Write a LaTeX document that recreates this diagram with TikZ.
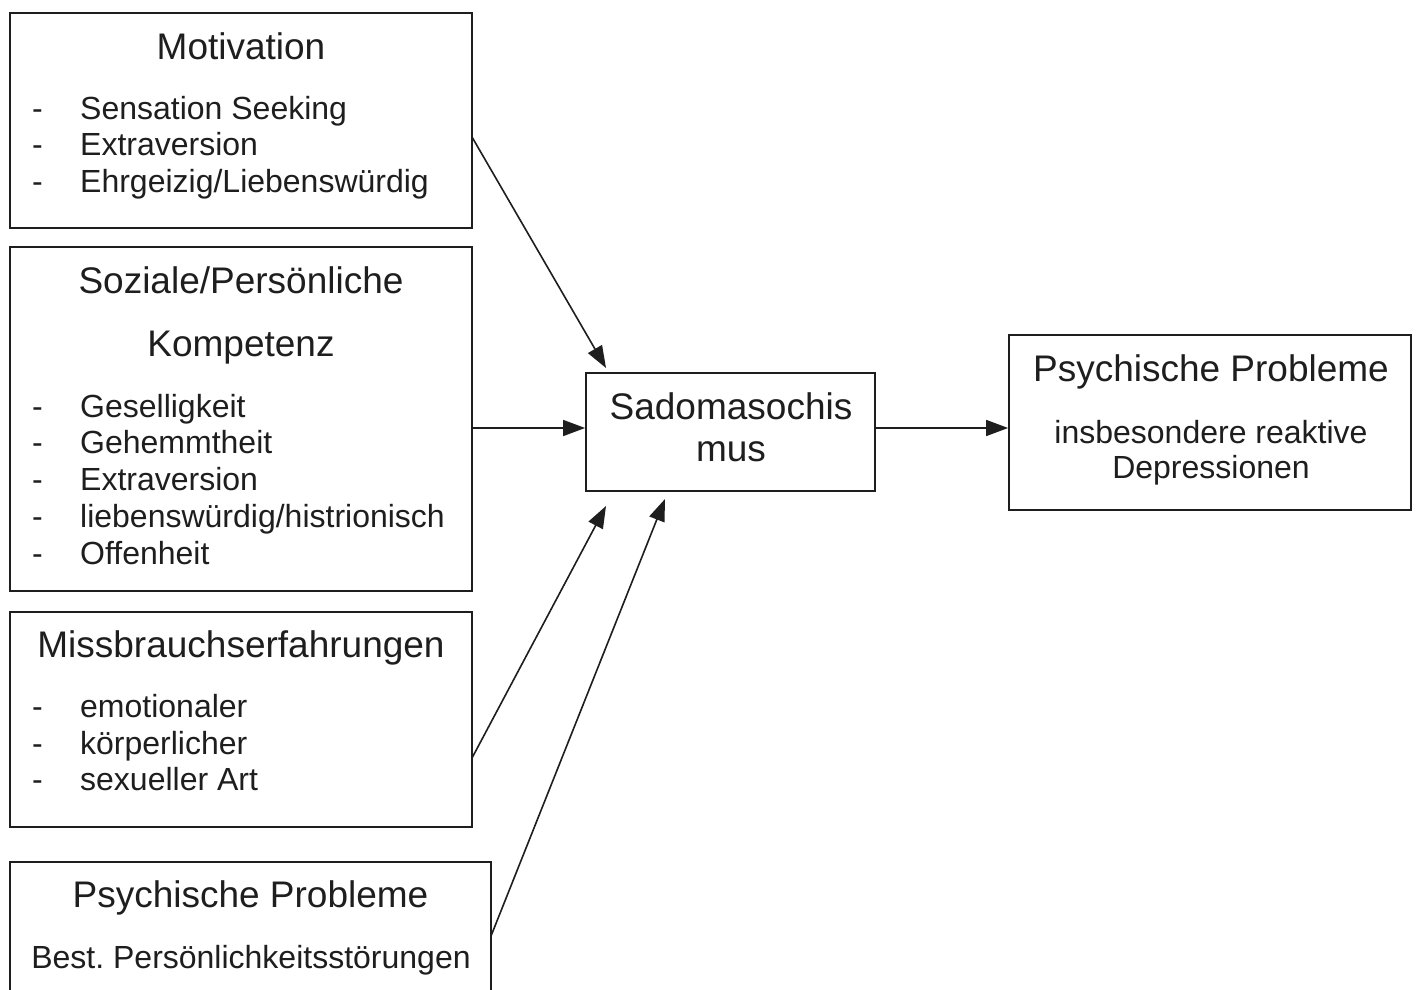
\documentclass[tikz,border=0pt]{standalone}
\usepackage{fontspec}
\setmainfont{Liberation Sans}
\usetikzlibrary{arrows.meta}
\definecolor{ink}{HTML}{1E1E1E}
\frenchspacing
\tikzset{
  box/.style={draw=ink, line width=1.8pt, inner sep=0pt, fill=none},
  ttl/.style={anchor=base, inner sep=0pt, text=ink, font=\fontsize{37}{42}\selectfont},
  itm/.style={anchor=base west, inner sep=0pt, text=ink, font=\fontsize{32}{37}\selectfont},
  sub/.style={anchor=base, inner sep=0pt, text=ink, font=\fontsize{32}{37}\selectfont},
  conn/.style={draw=ink, line width=1.6pt, -{Triangle[length=22pt,width=16pt]}}
}
\begin{document}
\begin{tikzpicture}[x=1pt,y=-1pt]
\useasboundingbox (0,0) rectangle (1419,989);
\fill[white] (0,0) rectangle (1419,989);

% boxes
\node[box, minimum width=462pt, minimum height=215pt] (b1) at (241,120.5) {};
\node[box, minimum width=462pt, minimum height=344pt] (b2) at (241,419) {};
\node[box, minimum width=462pt, minimum height=215pt] (b3) at (241,719.5) {};
\node[box, minimum width=289pt, minimum height=118pt] (sado) at (730.5,432) {};
\node[box, minimum width=402pt, minimum height=175pt] (out) at (1210,422.5) {};
\coordinate (b4bl) at (10,995);
\coordinate (b4tl) at (10,862);
\coordinate (b4tr) at (491,862);
\coordinate (b4br) at (491,995);
\draw[draw=ink, line width=1.8pt] (b4bl) -- (b4tl) -- (b4tr) -- (b4br);

% box 1
\node[ttl] (t1) at (241,59) {Motivation};
\foreach \y/\t [count=\i] in {119/Sensation Seeking,155/Extraversion,192/Ehrgeizig\slash Liebenswürdig}{
  \node[itm] (d1\i) at (32,\y) {-};
  \node[itm] (i1\i) at (80,\y) {\t};
}

% box 2
\node[ttl] (t2a) at (241,293) {Soziale/Persönliche};
\node[ttl] (t2b) at (241,356) {Kompetenz};
\foreach \y/\t [count=\i] in {417/Geselligkeit,453/Gehemmtheit,490/Extraversion,527/liebenswürdig\slash histrionisch,564/Offenheit}{
  \node[itm] (d2\i) at (32,\y) {-};
  \node[itm] (i2\i) at (80,\y) {\t};
}

% box 3
\node[ttl] (t3) at (241,657) {Missbrauchserfahrungen};
\foreach \y/\t [count=\i] in {717/emotionaler,754/körperlicher,790/sexueller Art}{
  \node[itm] (d3\i) at (32,\y) {-};
  \node[itm] (i3\i) at (80,\y) {\t};
}

% box 4
\node[ttl] (t4) at (250.5,907) {Psychische Probleme};
\node[sub] (s4) at (251,968) {Best. Persönlichkeitsstörungen};

% centre box
\node[ttl] (sa) at (731,419) {Sadomasochis};
\node[ttl] (sb) at (731,461) {mus};

% right box
\node[ttl] (to) at (1211,381) {Psychische Probleme};
\node[sub] (so1) at (1211,443) {insbesondere reaktive};
\node[sub] (so2) at (1211,478) {Depressionen};

% connectors
\coordinate (a1s) at (472,137);
\coordinate (a1e) at (606,368);
\coordinate (a2s) at (472,428);
\coordinate (a3s) at (472,758);
\coordinate (a3e) at (606,506);
\coordinate (a4s) at (491,936);
\coordinate (a4e) at (665,499);
\draw[conn] (a1s) -- (a1e);
\draw[conn] (a2s) -- (sado.west |- a2s);
\draw[conn] (a3s) -- (a3e);
\draw[conn] (a4s) -- (a4e);
\draw[conn] (sado.east |- a2s) -- (out.west |- a2s);
\end{tikzpicture}
\end{document}
